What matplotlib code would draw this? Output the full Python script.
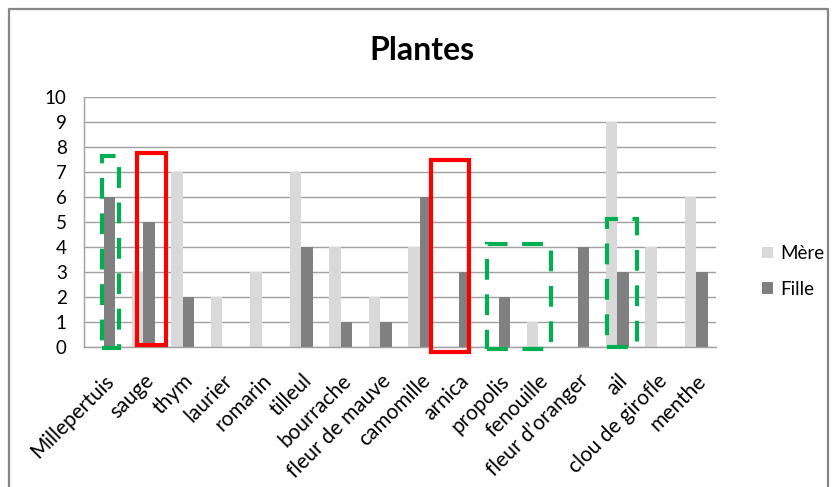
import matplotlib.pyplot as plt
import numpy as np
from matplotlib.patches import Rectangle
from matplotlib.lines import Line2D

plt.rcParams['font.family'] = ['Lato', 'DejaVu Sans']

# Données du graphique
plantes = ["Millepertuis", "sauge", "thym", "laurier", "romarin", "tilleul",
           "bourrache", "fleur de mauve", "camomille", "arnica", "propolis",
           "fenouille", "fleur d\u2019oranger", "ail", "clou de girofle", "menthe"]
mere = [0, 3, 7, 2, 3, 7, 4, 2, 4, 0, 0, 1, 0, 9, 4, 6]
fille = [6, 5, 2, 0, 0, 4, 1, 1, 6, 3, 2, 0, 4, 3, 0, 3]
yticks = list(range(0, 11))

# Encadrés (x0, x1, y0, y1) en coordonnées des données
cadres_rouges = [(0.84, 1.58, 0.08, 7.76), (8.29, 9.25, -0.2, 7.48)]
cadres_verts = [(-0.04, 0.39, -0.04, 7.64), (9.71, 11.32, -0.08, 4.13),
                (12.75, 13.50, -0.01, 5.11)]

W, H = 836, 487
fig = plt.figure(figsize=(W / 100, H / 100), dpi=100)
ax = fig.add_axes([84 / W, 140 / H, 632 / W, 250 / H])

x = np.arange(len(plantes))
w = 0.29
b1 = ax.bar(x - w, mere, width=w, align='edge', color='#D9D9D9', label='Mère', zorder=2)
b2 = ax.bar(x, fille, width=w, align='edge', color='#808080', label='Fille', zorder=2)

ax.set_xlim(-0.5, len(plantes) - 0.5)
ax.set_ylim(0, 10)
ax.set_yticks(yticks)
ax.set_yticklabels([str(t) for t in yticks], fontsize=13.5)
ax.yaxis.grid(True, color='#A0A0A0', linewidth=1.0, zorder=0)
ax.set_axisbelow(True)
ax.tick_params(axis='both', length=0)
ax.tick_params(axis='y', pad=12.5)

ax.set_xticks(x)
ax.set_xticklabels(plantes, rotation=45, ha='right', rotation_mode='anchor', fontsize=15)
ax.tick_params(axis='x', pad=17)

for s in ['top', 'right']:
    ax.spines[s].set_visible(False)
ax.spines['left'].set_color('#A0A0A0')
ax.spines['bottom'].set_color('#A0A0A0')
ax.spines['left'].set_linewidth(1.0)
ax.spines['bottom'].set_linewidth(1.0)

for x0, x1, y0, y1 in cadres_rouges:
    ax.add_patch(Rectangle((x0, y0), x1 - x0, y1 - y0, fill=False, edgecolor='#FF0000',
                           linewidth=3, clip_on=False, zorder=5))
for x0, x1, y0, y1 in cadres_verts:
    ax.add_patch(Rectangle((x0, y0), x1 - x0, y1 - y0, fill=False, edgecolor='#00B050',
                           linewidth=3, linestyle=(0, (5, 3.5)), clip_on=False, zorder=5))

fig.text(422 / W, 1 - 50 / H, "Plantes", ha='center', va='center',
         fontsize=23, fontweight='bold')

ax.legend(handles=[b1, b2], loc='center left', bbox_to_anchor=(762 / W, 1 - 271.5 / H),
          bbox_transform=fig.transFigure, frameon=False, fontsize=13.5,
          borderaxespad=0, borderpad=0,
          handlelength=0.6, handleheight=0.6, handletextpad=0.4, labelspacing=1.0)

# Cadre extérieur
fig.add_artist(Line2D([9 / W, 9 / W, 828 / W, 828 / W], [0, 1 - 9 / H, 1 - 9 / H, 0],
                      transform=fig.transFigure, color='#868686', linewidth=1.6))

fig.savefig("out.png", dpi=100)
